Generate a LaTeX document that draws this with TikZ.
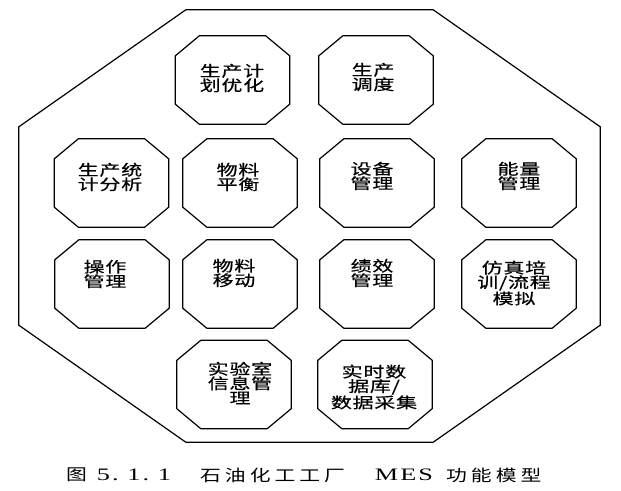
\documentclass[tikz,border=0pt]{standalone}
\usepackage{fontspec}
\newfontfamily\cjk[FakeStretch=1.4,LetterSpace=5,FakeBold=0.5]{Noto Sans CJK SC}
\newfontfamily\cjkcap[FakeStretch=1.3,LetterSpace=25]{Noto Sans CJK SC}
\newfontfamily\latn[FakeStretch=1.5,LetterSpace=12]{Liberation Serif}
\newcommand\octpath[3]{\draw[octline] ([xshift=#2]#1.north west) -- ([xshift=-#2]#1.north east) -- ([yshift=-#3]#1.north east) -- ([yshift=#3]#1.south east) -- ([xshift=-#2]#1.south east) -- ([xshift=#2]#1.south west) -- ([yshift=#3]#1.south west) -- ([yshift=-#3]#1.north west) -- cycle;}
\begin{document}
\begin{tikzpicture}[x=1pt,y=-1pt,
  box/.style={rectangle, inner sep=0pt, minimum width=114pt, minimum height=88pt},
  frm/.style={rectangle, inner sep=0pt, minimum width=581pt, minimum height=432pt},
  octline/.style={draw=black, line width=1.2pt, line join=miter},
  lbl/.style={font=\cjk\fontsize{15}{14.5}\selectfont, align=center, inner sep=0pt},
  captxt/.style={font=\cjkcap\fontsize{16}{16}\selectfont, inner sep=0pt},
  caplat/.style={font=\latn\fontsize{17.5}{17.5}\selectfont, inner sep=0pt}]
\useasboundingbox[fill=white] (0,0) rectangle (621,490);
% outer frame
\node[frm] (frame) at (309.5,226) {};
\octpath{frame}{167pt}{117pt}
% module octagons
\node[box] (A) at (232.5,80) {};
\node[box] (B) at (376,80) {};
\node[box] (C) at (111.5,183) {};
\node[box] (D) at (240,183) {};
\node[box] (E) at (377,183) {};
\node[box] (F) at (519,183) {};
\node[box] (G) at (112,284) {};
\node[box] (H) at (240,284) {};
\node[box] (I) at (377,284) {};
\node[box] (J) at (519,284) {};
\node[box] (K) at (234,384.5) {};
\node[box] (L) at (375,384.5) {};
\foreach \n in {A,B,C,D,E,F,G,H,I,J,K,L}{\octpath{\n}{24pt}{20pt}}
% labels
\node[lbl] (tA) at (232,78) {生产计\\划优化};
\node[lbl] (tB) at (373,77) {生产\\调度};
\node[lbl] (tC) at (110,177) {生产统\\计分析};
\node[lbl] (tD) at (238,177) {物料\\平衡};
\node[lbl] (tE) at (372,176) {设备\\管理};
\node[lbl] (tF) at (519,176) {能量\\管理};
\node[lbl] (tG) at (105,274) {操作\\管理};
\node[lbl] (tH) at (234,273) {物料\\移动};
\node[lbl] (tI) at (372,273) {绩效\\管理};
\node[lbl] (tJ) at (514,283) {仿真培\\训/流程\\模拟};
\node[lbl] (tK) at (240,383) {实验室\\信息管\\理};
\node[lbl] (tL) at (374,387) {实时数\\据库/\\数据采集};
% caption
\node[captxt, anchor=west] (c1) at (66,475) {图};
\node[caplat] (c2) at (134,475) {5.~1.~1};
\node[captxt, anchor=west] (c3) at (200,475) {石油化工工厂};
\node[caplat] (c4) at (404,475) {MES};
\node[captxt, anchor=west] (c5) at (446,475) {功能模型};
\end{tikzpicture}
\end{document}
